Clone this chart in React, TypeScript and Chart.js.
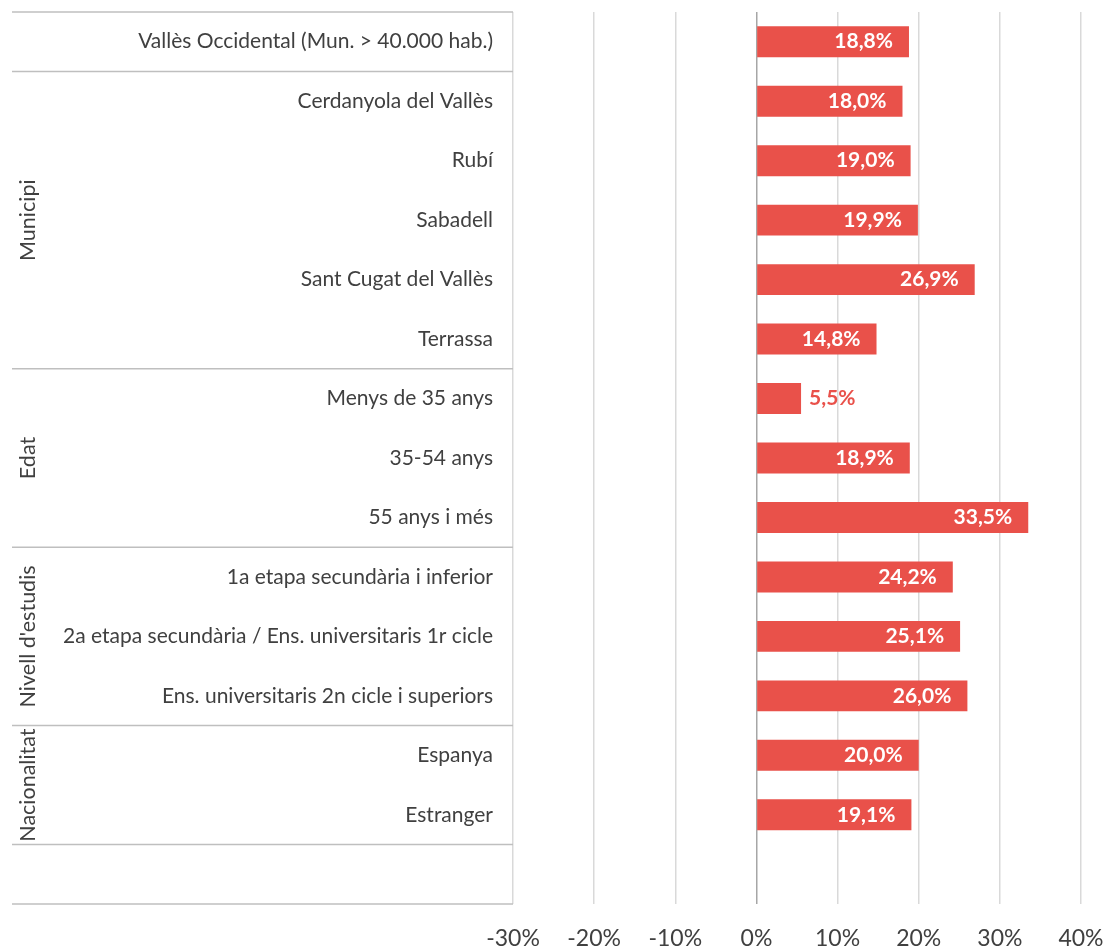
import React, { useEffect, useRef } from "react";
import { Chart, registerables } from "chart.js";

Chart.register(...registerables);

const categories = [
  "Vallès Occidental (Mun. > 40.000 hab.)",
  "Cerdanyola del Vallès",
  "Rubí",
  "Sabadell",
  "Sant Cugat del Vallès",
  "Terrassa",
  "Menys de 35 anys",
  "35-54 anys",
  "55 anys i més",
  "1a etapa secundària i inferior",
  "2a etapa secundària / Ens. universitaris 1r cicle",
  "Ens. universitaris 2n cicle i superiors",
  "Espanya",
  "Estranger",
  "",
];

const values: (number | null)[] = [
  18.8, 18.0, 19.0, 19.9, 26.9, 14.8, 5.5, 18.9, 33.5, 24.2, 25.1, 26.0, 20.0, 19.1, null,
];

const groupLabels = ["", "Municipi", "Edat", "Nivell d'estudis", "Nacionalitat", ""];
const groupStarts = [0, 1, 6, 9, 12, 14];
const groupEnds = [0, 5, 8, 11, 13, 14];

const xMin = -30;
const xMax = 40;
const xStep = 10;

const BAR_COLOR = "#E9514A";
const TEXT_COLOR = "#404040";
const FONT = "Lato";

const fmt = (v: number) => v.toFixed(1).replace(".", ",") + "%";

const groupPlugin = {
  id: "groupPlugin",
  afterDraw(chart: any) {
    const ctx = chart.ctx;
    const y = chart.scales.y;
    const area = chart.chartArea;
    const half = (y.getPixelForValue(1) - y.getPixelForValue(0)) / 2;
    ctx.save();
    ctx.strokeStyle = "#BFBFBF";
    ctx.lineWidth = 1.5;
    const bounds: number[] = [];
    groupStarts.forEach((s, i) => {
      bounds.push(y.getPixelForValue(s) - half);
      bounds.push(y.getPixelForValue(groupEnds[i]) + half);
    });
    const uniq = Array.from(new Set(bounds.map((b) => Math.round(b * 10) / 10)));
    uniq.forEach((b) => {
      ctx.beginPath();
      ctx.moveTo(12, b);
      ctx.lineTo(area.left, b);
      ctx.stroke();
    });
    ctx.fillStyle = TEXT_COLOR;
    ctx.font = `21.5px ${FONT}`;
    ctx.textAlign = "center";
    ctx.textBaseline = "middle";
    groupLabels.forEach((lab, i) => {
      if (!lab) return;
      const top = y.getPixelForValue(groupStarts[i]) - half;
      const bot = y.getPixelForValue(groupEnds[i]) + half;
      ctx.save();
      ctx.translate(28, (top + bot) / 2);
      ctx.rotate(-Math.PI / 2);
      ctx.fillText(lab, 0, 0);
      ctx.restore();
    });
    ctx.restore();
  },
};

const labelPlugin = {
  id: "labelPlugin",
  afterDatasetsDraw(chart: any) {
    const ctx = chart.ctx;
    const meta = chart.getDatasetMeta(0);
    ctx.save();
    ctx.font = `bold 21px ${FONT}`;
    ctx.textBaseline = "middle";
    meta.data.forEach((bar: any, i: number) => {
      const v = values[i];
      if (v === null || v === undefined) return;
      if (v < 10) {
        ctx.fillStyle = BAR_COLOR;
        ctx.textAlign = "left";
        ctx.fillText(fmt(v), bar.x + 8, bar.y);
      } else {
        ctx.fillStyle = "#FFFFFF";
        ctx.textAlign = "right";
        ctx.fillText(fmt(v), bar.x - 16, bar.y);
      }
    });
    ctx.restore();
  },
};

export default function App() {
  const ref = useRef<HTMLCanvasElement | null>(null);
  useEffect(() => {
    if (!ref.current) return;
    const chart = new Chart(ref.current, {
      type: "bar",
      data: {
        labels: categories,
        datasets: [
          {
            data: values as any,
            backgroundColor: BAR_COLOR,
            barPercentage: 0.52,
            categoryPercentage: 1,
          },
        ],
      },
      options: {
        indexAxis: "y",
        animation: false,
        responsive: true,
        maintainAspectRatio: false,
        layout: { padding: { left: 12, top: 12, right: 24, bottom: 0 } },
        plugins: { legend: { display: false }, tooltip: { enabled: false } },
        scales: {
          x: {
            min: xMin,
            max: xMax,
            border: { display: false },
            grid: {
              drawTicks: false,
              color: (c: any) => (c.tick && c.tick.value === 0 ? "#A6A6A6" : "#D9D9D9"),
              lineWidth: 1.5,
            },
            ticks: {
              stepSize: xStep,
              padding: 21,
              color: TEXT_COLOR,
              font: { family: FONT, size: 23 },
              callback: (v: any) => v + "%",
            },
            afterFit: (s: any) => {
              s.height = 42;
              s.paddingLeft = 0;
              s.paddingRight = 0;
            },
          },
          y: {
            border: { display: false },
            grid: { display: false, drawTicks: false },
            ticks: {
              padding: 20,
              color: TEXT_COLOR,
              font: { family: FONT, size: 21 },
              autoSkip: false,
            },
            afterFit: (s: any) => {
              s.width = 501;
              s.paddingTop = 0;
              s.paddingBottom = 0;
            },
          },
        },
      },
      plugins: [groupPlugin, labelPlugin],
    });
    return () => chart.destroy();
  }, []);
  return (
    <div style={{ position: "fixed", left: 0, top: 0, width: 1105, height: 946, background: "#fff" }}>
      <canvas ref={ref} />
    </div>
  );
}
